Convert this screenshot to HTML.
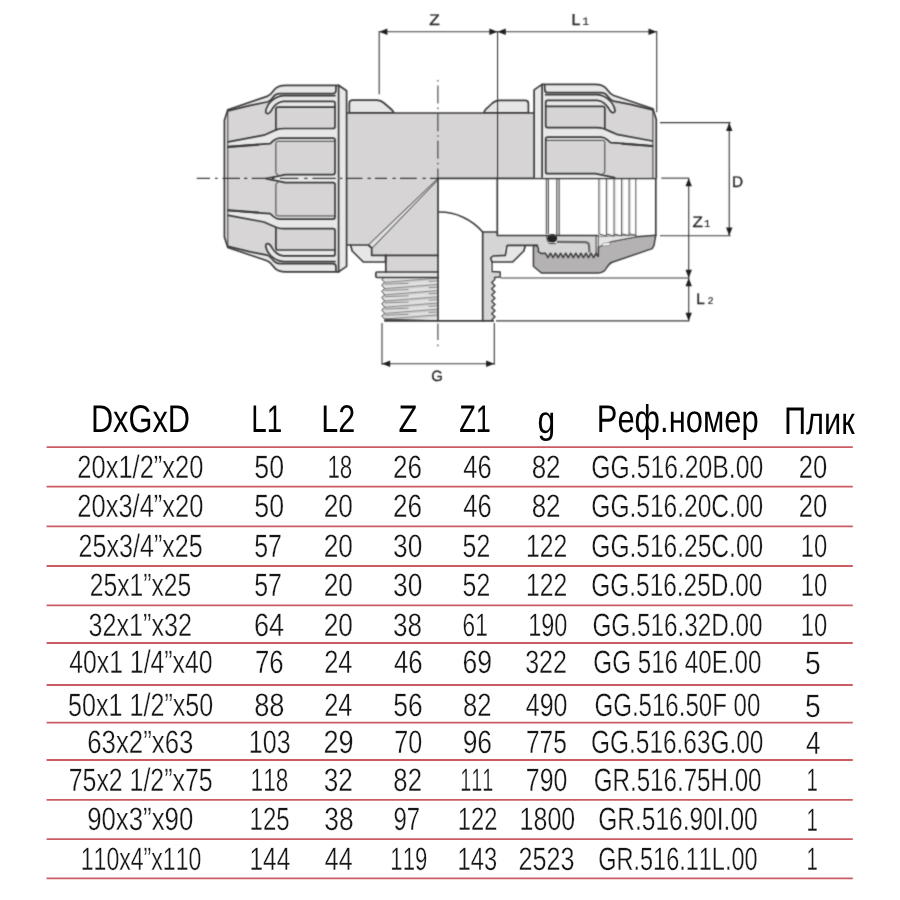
<!DOCTYPE html>
<html><head><meta charset="utf-8"><title>Тройник</title>
<style>
html,body{margin:0;padding:0;background:#fff}
svg{display:block}
text{font-family:"Liberation Sans",sans-serif;font-kerning:none;text-rendering:geometricPrecision}
.d{fill:#161616;stroke:#fff;stroke-width:0.32}
.h{fill:#000}
.lbl text{fill:#242424;stroke:#242424;stroke-width:.3}
.lbl text.sub{font-family:"Liberation Mono",monospace;stroke-width:.15}
</style></head>
<body>
<svg width="900" height="900" viewBox="0 0 900 900">
<rect width="900" height="900" fill="#fff"/>
<defs>
 <clipPath id="nhclip"><path d="M224.1,178.3 L224.1,120 L227.5,109.4 L266.7,96.1 C270.5,94.7 272,92 273.9,89.4 C276,86.6 280,85 285.6,85 L338.3,85 L338.3,178.3 Z"/></clipPath>
 <!-- upper half of a compression nut (left nut coordinates) -->
 <g id="nh">
  <g clip-path="url(#nhclip)">
   <rect x="220" y="80" width="120" height="99" fill="#d7d5d6"/>
   <rect x="275.6" y="80" width="63" height="99" fill="#e7e7e7"/>
   <path d="M224.1,178.3 L224.1,120 L227.5,109.4 L227.5,178.3 Z" fill="#dedede"/>
   <!-- rim on taper + hook -->
   <path d="M227.5,108 L266.7,95 L276,84 L276,108.3 L272.2,108.3 C271,110.5 270,111.7 269,112.6 C267.5,113.8 265,113.5 265.6,111.3 C265.9,109.5 266.2,108 266.7,106.7 C267.3,104.7 268.3,103 269.5,101.8 L266.7,101.7 L250,105 L227.5,110.6 Z" fill="#e7e7e7"/>
   <!-- band 2 extension -->
   <path d="M276,129.4 L269.8,132.2 L263.6,134.9 L228,141.6 L228,146.4 L262,143.8 L269.8,143.3 L273.3,140.2 L276,138.6 Z" fill="#e8e8e8"/>
   <path d="M286,174 L265.8,178.3 L286,178.3 Z" fill="#e7e7e7"/>
   <!-- panels -->
   <path d="M275.6,108.9 Q275.6,106.9 277.6,106.9 L334.7,106.9 L334.7,126.2 Q334.7,128.2 332.7,128.2 L277.6,128.2 Q275.6,128.2 275.6,126.2 Z" fill="#d6d4d5"/>
   <path d="M275.6,139.8 Q275.6,137.8 277.6,137.8 L332.7,137.8 Q334.7,137.8 334.7,139.8 L334.7,172.3 Q334.7,174.3 332.7,174.3 L277.6,174.3 Q275.6,174.3 275.6,172.3 Z" fill="#d6d4d5"/>
   <path d="M276.5,138 L334,138 L334,140.9 L276,140.9 Z" fill="#e4e4e4"/>
  </g>
  <g fill="none" stroke="#3c3c3c" stroke-width="1.7" stroke-linejoin="round" stroke-linecap="round">
   <path d="M224.1,178.3 L224.1,120 L227.5,109.4 L266.7,96.1 C270.5,94.7 272,92 273.9,89.4 C276,86.6 280,85 285.6,85 L338.3,85"/>
   <path d="M227.5,109.4 L227.5,178.3" stroke-width="1"/>
   <path d="M227.5,110.5 L250,105 L266.7,101.7 C269.5,101 271.5,98.5 273.3,96.1 C274.8,94.3 276.5,93.3 279.5,93.3 L332.7,93.3 Q335.4,93.2 335.6,90.5 L335.7,85.5"/>
   <path d="M334.7,95.3 L283.3,95.3 C279,95.6 273.5,98.5 270.6,101.1 C268.5,103.2 267,105.5 266.4,107.5 C265.6,109.5 265,111.3 265.6,112.3 C266.3,113.6 267.8,113.5 269,112.6 C270.3,111.6 271.3,110 272.2,108.3 C273.5,106.2 275,104.8 276.1,103.9 C278,102.3 279.5,101.2 283,101 L332.7,101 Q334.7,101 334.7,103 L334.7,126.2 Q334.7,128.2 332.7,128.2 L284,128.2 C281,128.2 279,128.4 276.9,129.1 L269.8,132.2 L263.6,134.9 L228,141.6"/>
   <path d="M334.7,106.9 L277.6,106.9 Q275.6,107 275.6,109 L275.6,129.4"/>
   <path d="M228,146.4 L262,143.8 L269.8,143.3 L273.3,140.2 C275,138.8 277,137.8 279.5,137.8 L332.7,137.8 Q334.7,137.8 334.7,139.8 L334.7,172.3 Q334.7,174.3 332.7,174.3 L285,174.3 L265.8,178.3"/>
   <path d="M334.7,140.9 L277.6,140.9 Q275.6,141 275.6,143 L275.6,172.3 Q275.6,174.3 277.6,174.3" stroke-width="1"/>
   <path d="M228,146.7 L258,144.4" stroke-width="1.9"/>
  </g>
  <!-- ring -->
  <path d="M338.3,85 L346.3,90.5 L346.3,178.3 L338.3,178.3 Z" fill="#e8e8e8"/>
  <g fill="none" stroke="#3c3c3c" stroke-width="1.7" stroke-linejoin="round">
   <path d="M338.3,178.3 L338.3,85 L346.3,90.5 L346.3,178.3"/>
  </g>
 </g>
 <filter id="soft" x="0" y="0" width="900" height="400" filterUnits="userSpaceOnUse" color-interpolation-filters="sRGB"><feConvolveMatrix order="3" kernelMatrix="0.029 0.112 0.029 0.112 0.436 0.112 0.029 0.112 0.029" divisor="1" edgeMode="duplicate" preserveAlpha="false"/></filter>
 <path id="ah" d="M0,0 L8.2,-3.2 L8.2,3.2 Z"/>
</defs>

<g id="diagram" filter="url(#soft)">
<!-- ===== body ===== -->
<g>
 <!-- top tabs -->
 <path d="M349.3,112.8 L349.3,103.5 Q349.3,100.2 352.8,100.2 L377,100.2 Q381,100.4 384,103 L391.5,109.5 Q393.4,111.2 393.8,112.8 Z" fill="#e6e6e6" stroke="#3c3c3c" stroke-width="1.7" stroke-linejoin="round"/>
 <path d="M528.4,112.8 L528.4,103.5 Q528.4,100.3 525,100.3 L499,100.3 Q495.5,100.5 492.5,103 L485.7,109.3 Q484.2,111.2 483.9,112.8 Z" fill="#e6e6e6" stroke="#3c3c3c" stroke-width="1.7" stroke-linejoin="round"/>
 <!-- main tube upper + lower-left -->
 <path d="M346.4,113 L534.3,113 L534.3,178.3 L438,178.3 L438,255.3 L371.7,255.3 L371.7,248 L368.3,245 L346.4,245 Z" fill="#d6d4d5"/>
 <!-- gusset -->
 <path d="M368.3,245 L438,178.3 L438,179.6 L372,248.3 Z" fill="#e0e0e0"/>
 <!-- bottom-left tab -->
 <path d="M350.6,245.3 L368.3,245 L371.7,248 L371.7,255.3 L385.6,255.3 L385.6,262 L363.3,262 L352.2,251 Z" fill="#e7e7e7"/>
 <!-- neck / collar / thread (exterior view) -->
 <rect x="385.8" y="255.3" width="52.2" height="16.7" fill="#d6d4d5"/>
 <path d="M438,272 L377.3,272 Q375.8,272 375.8,273.5 L375.8,276 Q375.8,277.5 377.3,277.5 L438,277.5 Z" fill="#e4e4e4"/>
  <clipPath id="thclip"><path d="M438,277.5 L381,277.5 L381,320.8 L438,320.8 Z"/></clipPath>
 <g clip-path="url(#thclip)">
 <path d="M438,277.5 L384.4,277.5 L381.7,279.3 L384.7,282.5 L381.7,284.9 L384.7,288.8 L381.7,291.1 L384.7,295.0 L381.7,297.4 L384.7,301.2 L381.7,303.6 L384.7,307.4 L381.7,309.8 L384.7,313.6 L381.7,315.9 L384.7,319.2 L385,320.6 L438,320.6 Z" fill="#e0e0e0"/>
 <g stroke="#cdcdcd" stroke-width="1.7" fill="none">
  <path d="M384.7,283.4 L438,279.2"/><path d="M384.7,289.7 L438,285.5"/><path d="M384.7,295.9 L438,291.7"/><path d="M384.7,302.1 L438,297.9"/><path d="M384.7,308.3 L438,304.1"/><path d="M384.7,314.5 L438,310.3"/><path d="M384.7,320.1 L438,315.9"/>
 </g>
 <g stroke="#808080" stroke-width="0.9" fill="none">
  <path d="M384.7,282.3 L438,278.1"/><path d="M384.7,288.6 L438,284.4"/><path d="M384.7,294.8 L438,290.6"/><path d="M384.7,301.0 L438,296.8"/><path d="M384.7,307.2 L438,303.0"/><path d="M384.7,313.4 L438,309.2"/><path d="M384.7,319.0 L438,314.8"/>
  <path d="M384.7,284.2 L408.5,283.3"/><path d="M384.7,290.5 L408.5,289.6"/><path d="M384.7,296.7 L408.5,295.8"/><path d="M384.7,302.9 L408.5,302.0"/><path d="M384.7,309.1 L408.5,308.2"/><path d="M384.7,315.3 L408.5,314.4"/>
  <path d="M428.7,281.4 L438,280.9"/><path d="M428.7,287.7 L438,287.2"/><path d="M428.7,293.9 L438,293.4"/><path d="M428.7,300.1 L438,299.6"/><path d="M428.7,306.3 L438,305.8"/><path d="M428.7,312.5 L438,312.0"/>
 </g>
 <path d="M384.7,318.6 L438,320.2 L438,320.8 L385,320.8 Z" fill="#555"/>
 </g>
 <!-- section wall (right of branch) + lower pipe wall -->
 <path d="M482.7,232 L497.3,232 L497.3,235.5 L598.3,235.7 L598.3,256.5 L596.1,253.2 L593.6,257.6 L591.0,253.2 L588.5,257.6 L586.0,253.2 L583.4,257.6 L580.9,253.2 L578.4,257.6 L575.8,253.2 L573.3,257.6 L570.8,253.2 L568.2,257.6 L565.7,253.2 L563.1,257.6 L560.6,253.2 L558.1,257.6 L555.5,253.2 L553.0,257.6 L550.5,253.2 L547.9,257.6 L545.4,253.2 L541,253.4 L538.3,251.7 L538.3,248.1 L536.6,245.4 L507.7,245.4 L504.3,248 L504.3,255.3 L490.4,255.3 L490.4,272 L500.2,272 L500.2,277.5 L493.5,277.5 L494.8,279.6 L491.7,282.4 L495,285.7 L491.7,288.7 L495,292.0 L491.7,295.0 L495,298.3 L491.7,301.3 L495,304.6 L491.7,307.6 L495,310.8 L491.7,313.8 L495,316.8 L492.2,319.6 L492.4,320.9 L482.7,320.8 Z" fill="#d6d5d6"/>
 <!-- bottom-right tab (light) -->
 <path d="M525.4,245.4 L523.8,251 L512.7,262 L492,262 L490.6,258 L492.7,256 L504.3,255.3 L505.3,255.3 L506.7,246.7 L507.7,245.3 Z" fill="#e7e7e7"/>
</g>

<!-- ===== right nut section (lower half) ===== -->
<g>
 <!-- nut section dark -->
 <path d="M533.4,245.4 L533.4,266.3 L541.4,273 L598,273 Q604,272.8 606.5,268 Q609,263.5 612.2,262.3 L652.2,248.6 L654,245.4 L655.8,235.2 L636.2,236.8 L611.3,241.6 L598.5,246.9 L598.3,256.5 L596.1,253.2 L593.6,257.6 L591.0,253.2 L588.5,257.6 L586.0,253.2 L583.4,257.6 L580.9,253.2 L578.4,257.6 L575.8,253.2 L573.3,257.6 L570.8,253.2 L568.2,257.6 L565.7,253.2 L563.1,257.6 L560.6,253.2 L558.1,257.6 L555.5,253.2 L553.0,257.6 L550.5,253.2 L547.9,257.6 L545.4,253.2 L541,253.4 L538.3,251.7 L538.3,248.1 L536.6,245.4 Z" fill="#b4b2b3" stroke="#404040" stroke-width="1.5" stroke-linejoin="round"/>
 <!-- light insert -->
 <path d="M598.5,236.3 L636,235 L636.2,236.8 L611.3,241.6 L598.5,246.9 Z" fill="#e4e4e4" stroke="#555" stroke-width="0.8"/>
 <rect x="602.6" y="243" width="7.6" height="2.6" rx="0.8" fill="#fff" stroke="#666" stroke-width="0.5" transform="rotate(-9 606.4 244.3)"/>
 <!-- pipe-stop double lines -->
 <rect x="546.3" y="178.3" width="2" height="57" fill="#dddddd"/>
 <rect x="556.9" y="178.3" width="2.3" height="57" fill="#dddddd"/>
 <g stroke="#454545" stroke-width="1" fill="none">
  <path d="M546.3,178.3 V234"/><path d="M548.4,178.3 V234"/><path d="M556.8,178.3 V236"/><path d="M559.2,178.3 V236"/>
 </g>
 <!-- grip ring lines -->
 <g fill="#e8e8e8">
  <rect x="598.9" y="178.3" width="2.2" height="56"/><rect x="606.4" y="178.3" width="2.2" height="56"/><rect x="614" y="178.3" width="2.2" height="56"/><rect x="621.6" y="178.3" width="2.2" height="55.5"/><rect x="629.1" y="178.3" width="2.2" height="55.5"/>
 </g>
 <g stroke="#505050" stroke-width="1" fill="none" stroke-linejoin="round">
  <path d="M598.9,178.3 V233.9 L606.4,236.1"/><path d="M606.4,178.3 V236.1 M606.4,233.9 L614,236.1"/><path d="M614,178.3 V236.1 M614,233.9 L621.6,236"/><path d="M621.6,178.3 V236 M621.6,233.8 L629.1,235.8"/><path d="M629.1,178.3 V235.8 M629.1,233.7 L635.8,235.5"/><path d="M635.8,178.3 V236.5"/>
 </g>
 <path d="M655.8,178.3 V236" stroke="#3c3c3c" stroke-width="1.7" fill="none"/>
 <!-- sleeve lines -->
 <path d="M547.5,242.6 L556,242.6" stroke="#fff" stroke-width="1.6" fill="none"/>
 <g stroke="#6a6a6a" stroke-width="2.2" fill="none" stroke-linejoin="round">
  <path d="M557,241.8 L585.5,242.1 Q588.8,242.4 589,245.4 L589.4,252.5"/>
 </g>
 <path d="M596.1,235.7 V256" stroke="#454545" stroke-width="1" fill="none"/>
 <path d="M546.5,235.7 Q546.8,241 549,243.6 L556,243.6" stroke="#454545" stroke-width="1" fill="none"/>
 <ellipse cx="552.2" cy="238.3" rx="4.9" ry="4.3" fill="#222"/>
</g>

<!-- ===== outlines of body ===== -->
<g fill="none" stroke="#3c3c3c" stroke-width="1.7" stroke-linejoin="round" stroke-linecap="round">
 <path d="M346.4,113 L534.3,113"/>
 <path d="M346.4,245 L368.3,245 L371.7,248 L371.7,255.3 L438,255.3"/>
 <path d="M368.3,245 L438,178.3" stroke-width="1"/>
 <path d="M372,248.3 L438,179.8" stroke-width="1"/>
 <path d="M350.6,245.3 L352.2,251 L363.3,262 L385.6,262 L385.6,255.3"/>
 <path d="M385.8,255.3 L385.8,272"/>
 <path d="M438,272 L377.3,272 Q375.8,272 375.8,273.5 L375.8,276 Q375.8,277.5 377.3,277.5 L438,277.5"/>
 <path d="M384.4,277.5 L381.7,279.3 L384.7,282.5 L381.7,284.9 L384.7,288.8 L381.7,291.1 L384.7,295.0 L381.7,297.4 L384.7,301.2 L381.7,303.6 L384.7,307.4 L381.7,309.8 L384.7,313.6 L381.7,315.9 L384.7,319.2 L385,320.8" stroke-width="1" stroke="#4a4a4a"/>
 <path d="M385,320.9 L493.3,320.9"/>
 <path d="M438,178.3 L438,320.8"/>
 <path d="M438,178.3 L655.8,178.3"/>
 <path d="M439,212 A57,57 0 0 1 482.7,232"/>
 <path d="M482.7,320.8 L482.7,232 L497.3,232"/>
 <path d="M497.3,178.3 L497.3,235.5 L598,235.5"/>
 <path d="M537.4,245.3 L507.7,245.3 L506.7,246.7 L505.3,255.3 L492.7,256 L490.6,258 L492,262 L512.7,262 L523.8,251 L525.4,245.4"/>
 <path d="M492,262 L492,271.5 L500.2,272 L500.2,277 L494.5,277.4 L494.8,279.6 L491.7,282.4 L495,285.7 L491.7,288.7 L495,292.0 L491.7,295.0 L495,298.3 L491.7,301.3 L495,304.6 L491.7,307.6 L495,310.8 L491.7,313.8 L495,316.8 L492.2,319.6 L492.4,320.9" stroke-width="1.4"/>
</g>

<!-- ===== nuts ===== -->
<use href="#nh" transform="translate(0.3 0.3)"/>
<use href="#nh" transform="matrix(1 0 0 -1 0.3 356.9)"/>
<use href="#nh" transform="matrix(-1 0 0 1 880.4 -0.6)"/>

<!-- ===== centre lines ===== -->
<g fill="none" stroke="#3c3c3c" stroke-width="1.25">
 <path d="M196.7,178.3 H210.0 M215.0,178.3 H217.6 M222.5,178.3 H240.0 M244.0,178.3 H247.4 M251.7,178.3 H266.7 M271.6,178.3 H274.4 M280.0,178.3 H298.3 M304.2,178.3 H307.5 M312.5,178.3 H335.8 M339.6,178.3 H342.4 M345.8,178.3 H362.5 M367.5,178.3 H370.8 M375.0,178.3 H387.0 M392.5,178.3 H395.8 M400.0,178.3 H416.7 M422.5,178.3 H425.8 M430.0,178.3 H438.0"/>
 <path d="M437.9,80 L437.9,178" stroke-dasharray="1.6 4 18 4" stroke-width="1.1"/>
 <path d="M437.9,323.6 L437.9,340" stroke-width="1.1"/>
 <path d="M437.9,344.6 L437.9,346.2" stroke-width="1.1"/>
</g>

<!-- ===== dimensions ===== -->
<g fill="none" stroke="#3a3a3a" stroke-width="1.12">
 <path d="M379.2,31 V94.2"/><path d="M497.55,31 V178"/><path d="M656.7,31 V112.3"/>
 <path d="M379.2,31.7 H656.7"/>
 <path d="M660,122.7 H730.6" stroke-width="1.3"/><path d="M660,235.8 H730.6"/><path d="M729.25,122.7 V235.8"/>
 <path d="M661.3,178.15 H689.2"/><path d="M688.7,178.15 V320.95"/>
 <path d="M500.5,278.05 H689.2"/><path d="M496,320.95 H689.2" stroke-width="1.3"/>
 <path d="M382,323 V364.8"/><path d="M494.3,323 V364.8"/><path d="M382,363.75 H494.3"/>
</g>
<g fill="#1e1e1e">
 <use href="#ah" transform="translate(379.2 31.7)"/>
 <use href="#ah" transform="translate(497.55 31.7) rotate(180)"/>
 <use href="#ah" transform="translate(497.55 31.7)"/>
 <use href="#ah" transform="translate(656.7 31.7) rotate(180)"/>
 <use href="#ah" transform="translate(729.25 122.7) rotate(90)"/>
 <use href="#ah" transform="translate(729.25 235.8) rotate(-90)"/>
 <use href="#ah" transform="translate(688.7 178.15) rotate(90)"/>
 <use href="#ah" transform="translate(688.7 278.05) rotate(-90)"/>
 <use href="#ah" transform="translate(688.7 278.05) rotate(90)"/>
 <use href="#ah" transform="translate(688.7 320.95) rotate(-90)"/>
 <use href="#ah" transform="translate(382 363.75)"/>
 <use href="#ah" transform="translate(494.3 363.75) rotate(180)"/>
</g>
<g class="lbl" style="opacity:.999">
 <text transform="translate(429.2 25) scale(1.12 1)" font-size="15.4">Z</text>
 <text x="571.5" y="25" font-size="15.9">L</text><text class="sub" x="582.2" y="25" font-size="11.4">1</text>
 <text x="731.9" y="186.9" font-size="15.4">D</text>
 <text transform="translate(692.4 227.1) scale(1.12 1)" font-size="15.2">Z</text><text class="sub" x="704" y="227.1" font-size="10.6">1</text>
 <text x="696.3" y="303.8" font-size="15.4">L</text><text class="sub" x="707.6" y="303.8" font-size="10.2">2</text>
 <text x="431.3" y="381.2" font-size="14.9">G</text>
</g>
</g>
<g stroke="#cb5c61" stroke-width="1.8">
<line x1="46.6" y1="447.1" x2="852.8" y2="447.1"/>
<line x1="46.6" y1="486.6" x2="852.8" y2="486.6"/>
<line x1="46.6" y1="526.3" x2="852.8" y2="526.3"/>
<line x1="46.6" y1="566.0" x2="852.8" y2="566.0"/>
<line x1="46.6" y1="605.4" x2="852.8" y2="605.4"/>
<line x1="46.6" y1="643.0" x2="852.8" y2="643.0"/>
<line x1="46.6" y1="685.0" x2="852.8" y2="685.0"/>
<line x1="46.6" y1="722.7" x2="852.8" y2="722.7"/>
<line x1="46.6" y1="760.0" x2="852.8" y2="760.0"/>
<line x1="46.6" y1="799.8" x2="852.8" y2="799.8"/>
<line x1="46.6" y1="839.2" x2="852.8" y2="839.2"/>
<line x1="46.6" y1="878.4" x2="852.8" y2="878.4"/>
</g>
<g style="opacity:.999">
<text class="h" font-size="38.6" transform="translate(90.88 432.40) scale(0.7983 1)">DxGxD</text>
<text class="h" font-size="38.6" transform="translate(251.31 432.30) scale(0.7228 1)">L1</text>
<text class="h" font-size="38.6" transform="translate(321.20 432.30) scale(0.7940 1)">L2</text>
<text class="h" font-size="38.6" transform="translate(398.59 432.30) scale(0.8051 1)">Z</text>
<text class="h" font-size="38.6" transform="translate(459.25 432.30) scale(0.7032 1)">Z1</text>
<text class="h" font-size="38.6" transform="translate(537.61 433.30) scale(0.8244 1)">g</text>
<text class="h" font-size="38.6" transform="translate(596.78 432.10) scale(0.8018 1)">Реф.номер</text>
<text class="h" font-size="38.6" transform="translate(783.90 433.90) scale(0.7989 1)">Плик</text>
<text class="d" font-size="32.3" transform="translate(77.37 477.70) scale(0.7889 1)">20x1/2”x20</text>
<text class="d" font-size="32.3" transform="translate(254.28 477.70) scale(0.8284 1)">50</text>
<text class="d" font-size="32.3" transform="translate(327.44 477.70) scale(0.6921 1)">18</text>
<text class="d" font-size="32.3" transform="translate(393.00 477.70) scale(0.8077 1)">26</text>
<text class="d" font-size="32.3" transform="translate(463.31 477.70) scale(0.7885 1)">46</text>
<text class="d" font-size="32.3" transform="translate(531.64 477.70) scale(0.8045 1)">82</text>
<text class="d" font-size="32.3" transform="translate(591.30 477.70) scale(0.7661 1)">GG.516.20B.00</text>
<text class="d" font-size="32.3" transform="translate(798.87 477.70) scale(0.7918 1)">20</text>
<text class="d" font-size="32.3" transform="translate(77.37 517.30) scale(0.7889 1)">20x3/4”x20</text>
<text class="d" font-size="32.3" transform="translate(254.28 517.30) scale(0.8284 1)">50</text>
<text class="d" font-size="32.3" transform="translate(323.66 517.30) scale(0.8139 1)">20</text>
<text class="d" font-size="32.3" transform="translate(393.00 517.30) scale(0.8077 1)">26</text>
<text class="d" font-size="32.3" transform="translate(463.31 517.30) scale(0.7885 1)">46</text>
<text class="d" font-size="32.3" transform="translate(531.64 517.30) scale(0.8045 1)">82</text>
<text class="d" font-size="32.3" transform="translate(591.33 517.30) scale(0.7597 1)">GG.516.20C.00</text>
<text class="d" font-size="32.3" transform="translate(798.87 517.30) scale(0.7918 1)">20</text>
<text class="d" font-size="32.3" transform="translate(78.59 557.00) scale(0.7767 1)">25x3/4”x25</text>
<text class="d" font-size="32.3" transform="translate(254.24 557.00) scale(0.7725 1)">57</text>
<text class="d" font-size="32.3" transform="translate(323.66 557.00) scale(0.8139 1)">20</text>
<text class="d" font-size="32.3" transform="translate(393.05 557.00) scale(0.8148 1)">30</text>
<text class="d" font-size="32.3" transform="translate(462.59 557.00) scale(0.7677 1)">52</text>
<text class="d" font-size="32.3" transform="translate(526.11 557.00) scale(0.7659 1)">122</text>
<text class="d" font-size="32.3" transform="translate(591.33 557.00) scale(0.7597 1)">GG.516.25C.00</text>
<text class="d" font-size="32.3" transform="translate(800.72 557.00) scale(0.7349 1)">10</text>
<text class="d" font-size="32.3" transform="translate(89.72 596.40) scale(0.7632 1)">25x1”x25</text>
<text class="d" font-size="32.3" transform="translate(254.24 596.40) scale(0.7725 1)">57</text>
<text class="d" font-size="32.3" transform="translate(323.66 596.40) scale(0.8139 1)">20</text>
<text class="d" font-size="32.3" transform="translate(393.05 596.40) scale(0.8148 1)">30</text>
<text class="d" font-size="32.3" transform="translate(462.59 596.40) scale(0.7677 1)">52</text>
<text class="d" font-size="32.3" transform="translate(526.11 596.40) scale(0.7659 1)">122</text>
<text class="d" font-size="32.3" transform="translate(591.37 596.40) scale(0.7556 1)">GG.516.25D.00</text>
<text class="d" font-size="32.3" transform="translate(800.72 596.40) scale(0.7349 1)">10</text>
<text class="d" font-size="32.3" transform="translate(88.51 636.10) scale(0.7787 1)">32x1”x32</text>
<text class="d" font-size="32.3" transform="translate(253.90 636.10) scale(0.8381 1)">64</text>
<text class="d" font-size="32.3" transform="translate(323.66 636.10) scale(0.8139 1)">20</text>
<text class="d" font-size="32.3" transform="translate(393.05 636.10) scale(0.8069 1)">38</text>
<text class="d" font-size="32.3" transform="translate(462.62 636.10) scale(0.7006 1)">61</text>
<text class="d" font-size="32.3" transform="translate(528.17 636.10) scale(0.7258 1)">190</text>
<text class="d" font-size="32.3" transform="translate(592.45 636.10) scale(0.7515 1)">GG.516.32D.00</text>
<text class="d" font-size="32.3" transform="translate(800.72 636.10) scale(0.7349 1)">10</text>
<text class="d" font-size="32.3" transform="translate(69.30 673.00) scale(0.7666 1)">40x1 1/4”x40</text>
<text class="d" font-size="32.3" transform="translate(255.04 673.00) scale(0.7970 1)">76</text>
<text class="d" font-size="32.3" transform="translate(324.15 673.00) scale(0.7840 1)">24</text>
<text class="d" font-size="32.3" transform="translate(394.00 673.00) scale(0.7967 1)">46</text>
<text class="d" font-size="32.3" transform="translate(462.60 673.00) scale(0.8220 1)">69</text>
<text class="d" font-size="32.3" transform="translate(525.21 673.00) scale(0.7739 1)">322</text>
<text class="d" font-size="32.3" transform="translate(593.31 673.00) scale(0.7494 1)">GG 516 40E.00</text>
<text class="d" font-size="32.3" transform="translate(804.96 673.90) scale(0.8739 1)">5</text>
<text class="d" font-size="32.3" transform="translate(68.07 715.80) scale(0.7775 1)">50x1 1/2”x50</text>
<text class="d" font-size="32.3" transform="translate(254.13 715.80) scale(0.8439 1)">88</text>
<text class="d" font-size="32.3" transform="translate(324.15 715.80) scale(0.7840 1)">24</text>
<text class="d" font-size="32.3" transform="translate(393.27 715.80) scale(0.8151 1)">56</text>
<text class="d" font-size="32.3" transform="translate(462.97 715.80) scale(0.7946 1)">82</text>
<text class="d" font-size="32.3" transform="translate(525.79 715.80) scale(0.7726 1)">490</text>
<text class="d" font-size="32.3" transform="translate(594.47 715.80) scale(0.7449 1)">GG.516.50F 00</text>
<text class="d" font-size="32.3" transform="translate(804.96 716.70) scale(0.8739 1)">5</text>
<text class="d" font-size="32.3" transform="translate(87.25 753.20) scale(0.7985 1)">63x2”x63</text>
<text class="d" font-size="32.3" transform="translate(248.86 753.20) scale(0.7746 1)">103</text>
<text class="d" font-size="32.3" transform="translate(323.40 753.20) scale(0.8403 1)">29</text>
<text class="d" font-size="32.3" transform="translate(394.35 753.20) scale(0.7802 1)">70</text>
<text class="d" font-size="32.3" transform="translate(462.63 753.20) scale(0.8185 1)">96</text>
<text class="d" font-size="32.3" transform="translate(525.96 753.20) scale(0.7577 1)">775</text>
<text class="d" font-size="32.3" transform="translate(591.10 753.20) scale(0.7555 1)">GG.516.63G.00</text>
<text class="d" font-size="32.3" transform="translate(805.94 753.50) scale(0.8099 1)">4</text>
<text class="d" font-size="32.3" transform="translate(68.71 790.50) scale(0.7703 1)">75x2 1/2”x75</text>
<text class="d" font-size="32.3" transform="translate(250.57 790.50) scale(0.6991 1)">118</text>
<text class="d" font-size="32.3" transform="translate(323.66 790.50) scale(0.8117 1)">32</text>
<text class="d" font-size="32.3" transform="translate(393.36 790.50) scale(0.7972 1)">82</text>
<text class="d" font-size="32.3" transform="translate(460.36 790.50) scale(0.6112 1)">111</text>
<text class="d" font-size="32.3" transform="translate(525.84 790.50) scale(0.7703 1)">790</text>
<text class="d" font-size="32.3" transform="translate(593.70 790.50) scale(0.7479 1)">GR.516.75H.00</text>
<text class="d" font-size="32.3" transform="translate(806.56 790.90) scale(0.6331 1)">1</text>
<text class="d" font-size="32.3" transform="translate(87.17 830.40) scale(0.7987 1)">90x3”x90</text>
<text class="d" font-size="32.3" transform="translate(249.57 830.40) scale(0.7423 1)">125</text>
<text class="d" font-size="32.3" transform="translate(324.23 830.40) scale(0.8156 1)">38</text>
<text class="d" font-size="32.3" transform="translate(393.41 830.40) scale(0.7406 1)">97</text>
<text class="d" font-size="32.3" transform="translate(457.81 830.40) scale(0.7339 1)">122</text>
<text class="d" font-size="32.3" transform="translate(519.62 830.40) scale(0.7727 1)">1800</text>
<text class="d" font-size="32.3" transform="translate(598.24 830.40) scale(0.7589 1)">GR.516.90I.00</text>
<text class="d" font-size="32.3" transform="translate(806.56 830.80) scale(0.6331 1)">1</text>
<text class="d" font-size="32.3" transform="translate(80.73 869.80) scale(0.7146 1)">110x4”x110</text>
<text class="d" font-size="32.3" transform="translate(249.51 869.80) scale(0.7565 1)">144</text>
<text class="d" font-size="32.3" transform="translate(324.82 869.80) scale(0.7731 1)">44</text>
<text class="d" font-size="32.3" transform="translate(390.35 869.80) scale(0.6847 1)">119</text>
<text class="d" font-size="32.3" transform="translate(457.51 869.80) scale(0.7342 1)">143</text>
<text class="d" font-size="32.3" transform="translate(518.59 869.80) scale(0.7790 1)">2523</text>
<text class="d" font-size="32.3" transform="translate(598.33 869.80) scale(0.7266 1)">GR.516.11L.00</text>
<text class="d" font-size="32.3" transform="translate(806.56 870.00) scale(0.6331 1)">1</text>
</g>
</svg>
</body></html>
